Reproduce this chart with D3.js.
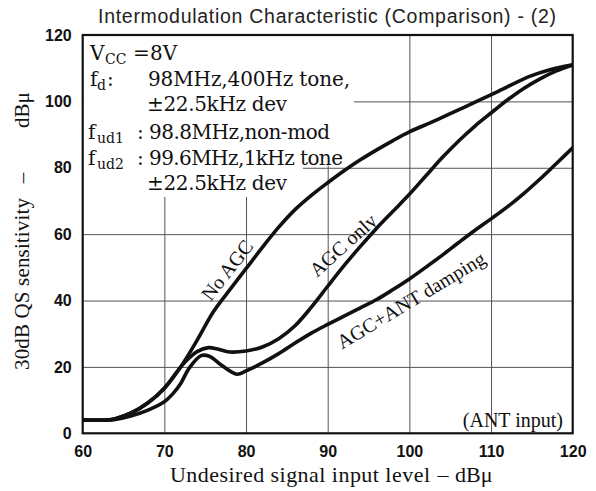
<!DOCTYPE html>
<html>
<head>
<meta charset="utf-8">
<script src="https://cdn.jsdelivr.net/npm/d3@7"></script>
<style>
  html, body { margin: 0; padding: 0; background: #fff; }
  svg { display: block; }
</style>
</head>
<body>
<div id="chart"></div>
<script>
// ---------- data ----------
const title = "Intermodulation Characteristic (Comparison) - (2)";
const xTicks = [60, 70, 80, 90, 100, 110, 120];
const yTicks = [0, 20, 40, 60, 80, 100, 120];

const noAgcX = [60, 63, 64, 66, 68, 70, 72, 74, 76, 78, 80, 82, 84, 86, 88, 90, 92, 94, 96, 98, 100, 102.6, 105, 108.7, 111, 114.8, 117, 120];
const noAgcY = [4, 4, 4.4, 6.2, 9.2, 13.6, 20, 28, 36.6, 43.2, 49.6, 56, 62.1, 67.4, 71.7, 75.5, 79.1, 82.4, 85.4, 88.2, 90.8, 93.6, 96.3, 100.5, 103.2, 107.6, 109.4, 111];

const agcOnlyX = [60, 63, 64, 66, 68, 70, 72, 73, 74, 75.4, 76.5, 78, 80, 82, 84, 86, 88, 90, 92, 94, 96, 98, 100, 102, 104, 106, 108, 110, 112, 114, 116, 118, 120];
const agcOnlyY = [4, 4, 4.4, 6.2, 9.2, 13.6, 20, 22.6, 24.6, 25.8, 25.4, 24.5, 24.8, 26, 28.5, 32.4, 38, 44.3, 50.5, 56.3, 61.8, 66.9, 72, 77.5, 83, 88, 92.5, 96.5, 100.4, 103.9, 106.8, 109.2, 111];

const agcAntX = [60, 63, 64, 66, 68, 70, 71, 72, 73, 74.5, 75.5, 77, 78.9, 80, 82, 84, 86, 88, 90, 92, 94, 96, 98, 100, 102, 104, 106, 108, 110, 112, 114, 116, 118, 120];
const agcAntY = [4, 4, 4.2, 5.3, 7.0, 9.5, 11.8, 15, 19.5, 23.4, 23.2, 20.5, 17.8, 18.8, 21.2, 24, 27.2, 30.2, 32.8, 35.3, 37.8, 40.3, 43.3, 46.5, 50, 53.6, 57.4, 61.1, 64.6, 68.2, 72.2, 76.6, 81.3, 86];

const curveLabels = ["No AGC", "AGC only", "AGC+ANT damping"];
const annot = "(ANT input)";
const xTitle = ["Undesired signal input level", "–", "dBμ"];
const yTitle = ["30dB QS sensitivity", "–", "dBμ"];

// ---------- layout ----------
const W = 596, H = 491;
const plot = { left: 82.7, right: 572.7, top: 35, bottom: 433.3 };

const svg = d3.select("#chart").append("svg")
  .attr("width", W).attr("height", H);

const x = d3.scaleLinear().domain([60, 120]).range([plot.left, plot.right]);
const y = d3.scaleLinear().domain([0, 120]).range([plot.bottom, plot.top]);

// title
svg.append("text")
  .attr("x", 327).attr("y", 23)
  .attr("text-anchor", "middle")
  .attr("font-family", "Liberation Sans, Arial, sans-serif")
  .attr("font-size", 19.5)
  .attr("textLength", 458)
  .attr("fill", "#222")
  .text(title);

// grid
const gridG = svg.append("g");
gridG.append("g")
  .attr("transform", `translate(0,${plot.bottom})`)
  .call(d3.axisBottom(x).tickValues(xTicks.slice(1, -1)).tickSize(-(plot.bottom - plot.top)).tickFormat(""))
  .call(g => g.select(".domain").remove())
  .call(g => g.selectAll("line").attr("stroke", "#555").attr("stroke-width", 1));
gridG.append("g")
  .attr("transform", `translate(${plot.left},0)`)
  .call(d3.axisLeft(y).tickValues(yTicks.slice(1, -1)).tickSize(-(plot.right - plot.left)).tickFormat(""))
  .call(g => g.select(".domain").remove())
  .call(g => g.selectAll("line").attr("stroke", "#555").attr("stroke-width", 1));

// white area behind the conditions text
const maskRects = [
  [plot.left + 1, plot.top + 1, 354, 103],
  [plot.left + 1, 103, 331, 165.5],
  [plot.left + 1, 165.5, 303, 197]
];
svg.append("g").selectAll("rect").data(maskRects).join("rect")
  .attr("x", d => d[0]).attr("y", d => d[1])
  .attr("width", d => d[2] - d[0]).attr("height", d => d[3] - d[1])
  .attr("fill", "#fff");

// frame
svg.append("rect")
  .attr("x", plot.left).attr("y", plot.top)
  .attr("width", plot.right - plot.left).attr("height", plot.bottom - plot.top)
  .attr("fill", "none").attr("stroke", "#111").attr("stroke-width", 2.2);

// tick labels
svg.append("g")
  .attr("transform", `translate(${plot.left},0)`)
  .call(d3.axisLeft(y).tickValues(yTicks).tickSize(0).tickPadding(11).tickFormat(d3.format("d")))
  .call(g => g.select(".domain").remove())
  .call(g => g.selectAll("text")
    .attr("font-family", "Liberation Sans, Arial, sans-serif")
    .attr("font-weight", "bold")
    .attr("font-size", 16)
    .attr("fill", "#111"));
svg.append("g")
  .attr("transform", `translate(0,${plot.bottom})`)
  .call(d3.axisBottom(x).tickValues(xTicks).tickSize(0).tickPadding(12).tickFormat(d3.format("d")))
  .call(g => g.select(".domain").remove())
  .call(g => g.selectAll("text")
    .attr("font-family", "Liberation Sans, Arial, sans-serif")
    .attr("font-weight", "bold")
    .attr("font-size", 16)
    .attr("fill", "#111"));

// curves
const series = [
  d3.zip(noAgcX, noAgcY),
  d3.zip(agcOnlyX, agcOnlyY),
  d3.zip(agcAntX, agcAntY)
];
const line = d3.line()
  .x(d => x(d[0])).y(d => y(d[1]))
  .curve(d3.curveCatmullRom.alpha(0.5));
svg.append("defs").append("clipPath").attr("id", "clip")
  .append("rect").attr("x", plot.left).attr("y", plot.top - 4)
  .attr("width", plot.right - plot.left).attr("height", plot.bottom - plot.top + 4);
svg.append("g").attr("clip-path", "url(#clip)")
  .selectAll("path").data(series).join("path")
  .attr("d", line)
  .attr("fill", "none")
  .attr("stroke", "#111")
  .attr("stroke-width", 3.6)
  .attr("stroke-linecap", "round")
  .attr("stroke-linejoin", "round");

// curve labels
const serif = "Liberation Serif, Times New Roman, serif";
const labelPos = [
  { cx: 227, cy: 270, a: -52 },
  { cx: 343, cy: 245, a: -42 },
  { cx: 411, cy: 300, a: -31 }
];
svg.append("g").selectAll("text").data(curveLabels).join("text")
  .attr("transform", (d, i) => `translate(${labelPos[i].cx},${labelPos[i].cy}) rotate(${labelPos[i].a})`)
  .attr("text-anchor", "middle")
  .attr("dy", "0.35em")
  .attr("font-family", serif)
  .attr("font-size", 20)
  .attr("fill", "#111")
  .text(d => d);

svg.append("text")
  .attr("x", 563).attr("y", 427)
  .attr("text-anchor", "end")
  .attr("font-family", serif)
  .attr("font-size", 20)
  .attr("fill", "#111")
  .text(annot);

// axis titles
const xt = svg.append("g").attr("font-family", serif).attr("font-size", 22).attr("fill", "#111");
xt.append("text").attr("x", 170).attr("y", 482).attr("textLength", 260).text(xTitle[0]);
xt.append("text").attr("x", 443).attr("y", 482).attr("text-anchor", "middle").text(xTitle[1]);
xt.append("text").attr("x", 455).attr("y", 482).text(xTitle[2]);

const yt = svg.append("g").attr("font-family", serif).attr("font-size", 21).attr("fill", "#111")
  .attr("transform", "translate(29,0) rotate(-90)");
yt.append("text").attr("x", -370).attr("y", 0).attr("textLength", 172).text(yTitle[0]);
yt.append("text").attr("x", -178).attr("y", 0).attr("text-anchor", "middle").text(yTitle[1]);
yt.append("text").attr("x", -128).attr("y", 0).text(yTitle[2]);

// conditions text
const cond = "DejaVu Serif, serif";
const tg = svg.append("g").attr("font-family", cond).attr("fill", "#111");
function piece(txt, px, py, size, len) {
  const t = tg.append("text").attr("x", px).attr("y", py).attr("font-size", size).text(txt);
  if (len) t.attr("textLength", len);
  return t;
}
// line 1
piece("V", 90, 60, 20);
piece("CC", 105, 64, 14);
piece("=", 133, 60, 20);
piece("8V", 150, 60, 20);
// line 2
piece("f", 90, 86, 20);
piece("d", 97, 90, 14);
piece(":", 107, 86, 20);
piece("98MHz,400Hz  tone,", 148, 86, 20, 202);
// line 3
piece("±22.5kHz dev", 147, 111, 20, 140);
// line 4
piece("f", 88, 139, 20);
piece("ud1", 97, 143, 14);
piece(":", 137, 139, 20);
piece("98.8MHz,non-mod", 149, 139, 20, 181);
// line 5
piece("f", 88, 165, 20);
piece("ud2", 97, 169, 14);
piece(":", 137, 165, 20);
piece("99.6MHz,1kHz tone", 149, 165, 20, 194);
// line 6
piece("±22.5kHz dev", 147, 190, 20, 140);
</script>
</body>
</html>
